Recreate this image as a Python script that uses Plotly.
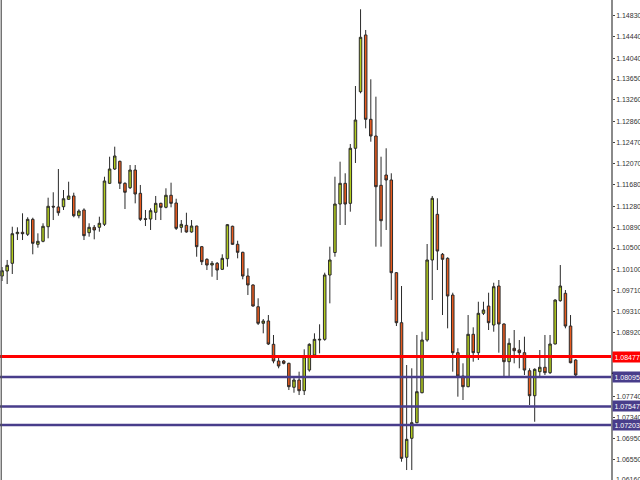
import plotly.graph_objects as go

opens = [1.09978, 1.10072, 1.10215, 1.10767, 1.10793, 1.10756, 1.11035, 1.10569, 1.10625, 1.10897,
         1.11278, 1.11265, 1.11270, 1.11408, 1.11470, 1.11102, 1.11209, 1.10786, 1.10886, 1.10886,
         1.10942, 1.11706, 1.11973, 1.12116, 1.11706, 1.11624, 1.11954, 1.11520, 1.11046, 1.11041,
         1.11166, 1.11333, 1.11259, 1.11483, 1.11339, 1.10886, 1.10923, 1.10799, 1.10910, 1.10525,
         1.10290, 1.10183, 1.10215, 1.10103, 1.10301, 1.10905, 1.10569, 1.10420, 1.09978, 1.09811,
         1.09406, 1.09097, 1.09140, 1.08705, 1.08394, 1.08394, 1.08351, 1.07904, 1.08040, 1.07840,
         1.08226, 1.08506, 1.08785, 1.08798, 1.09997, 1.10416, 1.11320, 1.11706, 1.11333, 1.12359,
         1.13414, 1.14471, 1.12899, 1.12588, 1.11669, 1.11861, 1.11768, 1.10040, 1.09108, 1.06599,
         1.06953, 1.07244, 1.07803, 1.08785, 1.10277, 1.11128, 1.10383, 1.10308, 1.09624, 1.08549,
         1.08114, 1.07915, 1.08892, 1.08549, 1.09283, 1.09419, 1.09065, 1.09792, 1.09084, 1.08381,
         1.08631, 1.08599, 1.08549, 1.08213, 1.07747, 1.08195, 1.08277, 1.08176, 1.08711, 1.09518,
         1.09656, 1.09046, 1.08413]
highs = [1.10146, 1.10277, 1.10897, 1.10886, 1.11147, 1.11073, 1.11065, 1.10774, 1.10961, 1.11438,
         1.11539, 1.11973, 1.11581, 1.11736, 1.11531, 1.11222, 1.11240, 1.10961, 1.10929, 1.11084,
         1.11829, 1.12202, 1.12389, 1.12128, 1.11725, 1.12047, 1.12047, 1.11675, 1.11209, 1.11240,
         1.11470, 1.11345, 1.11613, 1.11718, 1.11419, 1.11022, 1.11158, 1.11022, 1.10915, 1.10538,
         1.10308, 1.10258, 1.10239, 1.10383, 1.10948, 1.10916, 1.10636, 1.10431, 1.10122, 1.09824,
         1.09563, 1.09177, 1.09251, 1.08879, 1.08474, 1.08413, 1.08362, 1.08083, 1.08195, 1.08612,
         1.08724, 1.08910, 1.09078, 1.10040, 1.10525, 1.11829, 1.12109, 1.11893, 1.12439, 1.13520,
         1.14950, 1.14564, 1.13645, 1.13321, 1.12202, 1.12359, 1.11893, 1.10053, 1.09792, 1.08319,
         1.08258, 1.08879, 1.08940, 1.10575, 1.11470, 1.11427, 1.10407, 1.10327, 1.09667, 1.08631,
         1.08351, 1.09251, 1.09022, 1.09499, 1.09499, 1.09667, 1.09853, 1.09904, 1.09097, 1.08817,
         1.08972, 1.08785, 1.08847, 1.08258, 1.08258, 1.08599, 1.08879, 1.08879, 1.09544, 1.10183,
         1.09717, 1.09251, 1.08426]
lows = [1.09885, 1.09829, 1.10016, 1.10649, 1.10649, 1.10724, 1.10383, 1.10506, 1.10607, 1.10681,
        1.11022, 1.11102, 1.11209, 1.11395, 1.11073, 1.11054, 1.10649, 1.10711, 1.10662, 1.10804,
        1.10910, 1.11693, 1.11954, 1.11600, 1.11227, 1.11600, 1.11333, 1.11004, 1.10910, 1.10836,
        1.11022, 1.11022, 1.11240, 1.11259, 1.10836, 1.10786, 1.10786, 1.10786, 1.10338, 1.10183,
        1.10090, 1.09965, 1.09904, 1.10090, 1.10152, 1.10562, 1.10308, 1.09917, 1.09624, 1.09406,
        1.09065, 1.08910, 1.08692, 1.08351, 1.08258, 1.08332, 1.07853, 1.07803, 1.07760, 1.07760,
        1.08195, 1.08474, 1.08537, 1.08772, 1.09469, 1.10338, 1.10929, 1.10929, 1.11177, 1.12085,
        1.13384, 1.12731, 1.12482, 1.10525, 1.10525, 1.10836, 1.09531, 1.09046, 1.06517, 1.06362,
        1.06362, 1.07233, 1.07792, 1.08754, 1.09531, 1.10090, 1.09251, 1.09003, 1.08195, 1.07729,
        1.07667, 1.07904, 1.08381, 1.08413, 1.09251, 1.08972, 1.08940, 1.08549, 1.08114, 1.08114,
        1.08351, 1.08258, 1.08133, 1.07574, 1.07262, 1.08101, 1.08133, 1.08152, 1.08705, 1.09499,
        1.09003, 1.08351, 1.08114]
closes = [1.10077, 1.10178, 1.10767, 1.10793, 1.10767, 1.11035, 1.10588, 1.10625, 1.10905, 1.11278,
          1.11265, 1.11158, 1.11419, 1.11470, 1.11102, 1.11190, 1.10730, 1.10886, 1.10836, 1.10961,
          1.11749, 1.11973, 1.12215, 1.11706, 1.11539, 1.11954, 1.11507, 1.11035, 1.11035, 1.11196,
          1.11333, 1.11259, 1.11483, 1.11333, 1.10867, 1.10942, 1.10799, 1.10910, 1.10525, 1.10245,
          1.10183, 1.10215, 1.10090, 1.10308, 1.10935, 1.10569, 1.10420, 1.09978, 1.09811, 1.09419,
          1.09097, 1.09140, 1.08711, 1.08394, 1.08301, 1.08351, 1.07915, 1.08040, 1.07840, 1.08474,
          1.08705, 1.08798, 1.08798, 1.09997, 1.10277, 1.11320, 1.11706, 1.11320, 1.12359, 1.12886,
          1.14428, 1.12899, 1.12588, 1.11643, 1.11009, 1.11768, 1.10040, 1.09108, 1.06580, 1.06934,
          1.07244, 1.07822, 1.08785, 1.10277, 1.11427, 1.10444, 1.10290, 1.09606, 1.08549, 1.08114,
          1.07915, 1.08892, 1.08549, 1.09283, 1.09345, 1.09108, 1.09779, 1.09084, 1.08381, 1.08724,
          1.08586, 1.08549, 1.08226, 1.07747, 1.08239, 1.08277, 1.08176, 1.08711, 1.09531, 1.09792,
          1.09046, 1.08362, 1.08133]
bars = list(range(len(opens)))

tick_vals = [1.14830, 1.14440, 1.14040, 1.13650, 1.13260, 1.12860, 1.12470, 1.12070, 1.11680,
             1.11280, 1.10890, 1.10500, 1.10100, 1.09710, 1.09310, 1.08920, 1.07740, 1.07340,
             1.06950, 1.06550]
tick_text = ["%.5f" % v for v in tick_vals]
edge_tick = 1.06160

level_prices = [1.08477, 1.08095, 1.07547, 1.07203]
level_colors = ["#ff0000", "#483d8b", "#483d8b", "#483d8b"]
level_widths = [3, 2.5, 2.5, 2.5]

fig = go.Figure(go.Candlestick(
    x=bars, open=opens, high=highs, low=lows, close=closes,
    increasing=dict(fillcolor="#b2cc1e", line=dict(color="#2a2a2a", width=1)),
    decreasing=dict(fillcolor="#e85a1e", line=dict(color="#2a2a2a", width=1)),
    whiskerwidth=0, hoverinfo="skip",
))

for p, c, w in zip(level_prices, level_colors, level_widths):
    fig.add_shape(type="line", xref="paper", yref="y", x0=0, x1=1, y0=p, y1=p,
                  line=dict(color=c, width=w), layer="above")
    fig.add_annotation(xref="paper", yref="y", x=1.0, y=p, xanchor="left", yanchor="middle",
                       text="%.5f" % p, showarrow=False, bgcolor=c, width=30, align="left",
                       font=dict(family="Liberation Sans", size=7, color="white"),
                       borderpad=1.5, xshift=1)

# partially visible bottom tick label
fig.add_annotation(xref="paper", yref="paper", x=1.0, y=0, xanchor="left", yanchor="bottom",
                   text="%.5f" % edge_tick, showarrow=False, xshift=3, yshift=-5,
                   font=dict(family="Liberation Sans", size=7, color="#333333"))

# black marker above second level label
fig.add_shape(type="rect", xref="paper", yref="y", x0=1.0015, x1=1.06, y0=1.08150, y1=1.08178,
              fillcolor="black", line=dict(width=0), layer="above")
# left border
fig.add_shape(type="line", xref="paper", yref="paper", x0=0.002, x1=0.002, y0=0, y1=1,
              line=dict(color="#555555", width=1.2))

fig.update_layout(
    width=640, height=480,
    margin=dict(l=0, r=29, t=0, b=0, autoexpand=False),
    paper_bgcolor="white", plot_bgcolor="white",
    showlegend=False,
    xaxis=dict(range=[-0.4, 118.9], visible=False, rangeslider=dict(visible=False)),
    yaxis=dict(range=[1.06176, 1.15123], side="right", showgrid=False, zeroline=False,
               automargin=False,
               tickvals=tick_vals, ticktext=tick_text, ticks="outside", ticklen=2,
               tickcolor="#444444", showline=True, linecolor="#8a8a8a", linewidth=1.5,
               tickfont=dict(family="Liberation Sans", size=7, color="#333333")),
)

fig.write_html("out.html", config={"displayModeBar": False},
               post_script="document.body.style.margin='0';document.body.style.overflow='hidden';")
